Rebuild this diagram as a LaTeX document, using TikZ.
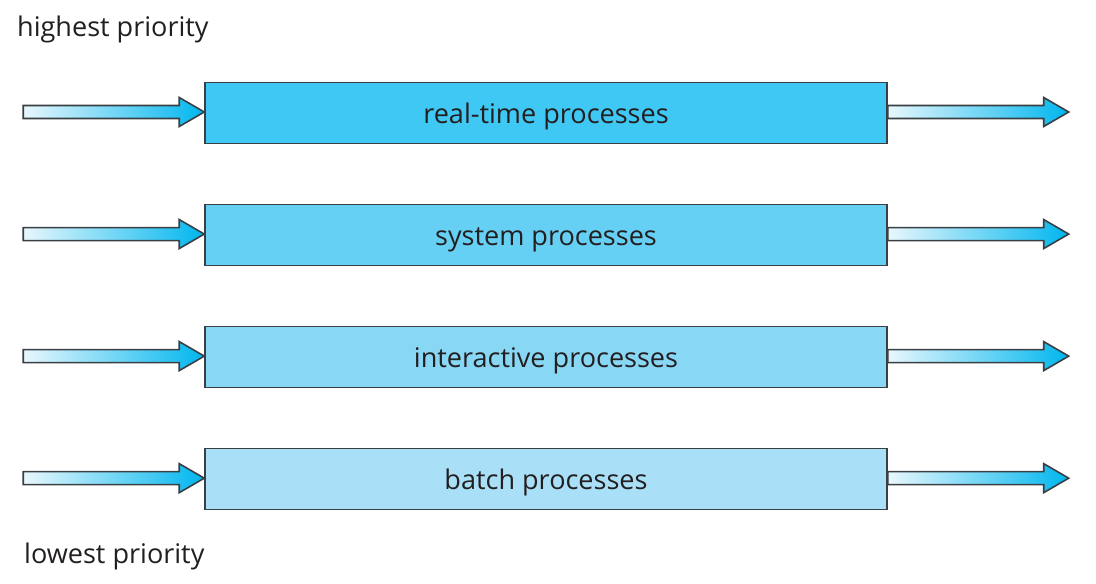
\documentclass[tikz,border=0pt]{standalone}
\usepackage{fontspec}
\setmainfont{Open Sans}
\usetikzlibrary{positioning, calc}

\definecolor{qone}{HTML}{40C8F4}
\definecolor{qtwo}{HTML}{66CFF4}
\definecolor{qthree}{HTML}{88D7F5}
\definecolor{qfour}{HTML}{A9E0F7}
\definecolor{arrowlight}{HTML}{E8F7FD}
\definecolor{arrowdark}{HTML}{00B6EE}
\definecolor{edgegray}{HTML}{3A3F44}
\definecolor{inkdark}{HTML}{231F20}

\tikzset{
  queuebox/.style={draw=edgegray, line width=0.9pt, minimum width=13.64cm, minimum height=1.22cm,
    inner sep=0pt, text height=11.5pt, text depth=0pt, font=\fontsize{15.4}{18}\selectfont, text=inkdark},
  blockarrow/.pic={
    \draw[edgegray, line width=0.9pt, left color=arrowlight, right color=arrowdark]
      (0,6.5) -- (156,6.5) -- (156,14.5) -- (181,0) -- (156,-14.5) -- (156,-6.5) -- (0,-6.5) -- cycle;
  }
}

\begin{document}
\begin{tikzpicture}[x=0.02cm, y=-0.02cm, node distance=1.19cm]
  \useasboundingbox (0,0) rectangle (1096,584);

  \node[queuebox, fill=qone] (rt) at (546,113) {real-time processes};
  \node[queuebox, fill=qtwo, below=of rt] (sys) {system processes};
  \node[queuebox, fill=qthree, below=of sys] (inter) {interactive processes};
  \node[queuebox, fill=qfour, below=of inter] (batch) {batch processes};

  \node[anchor=west, text=inkdark, font=\fontsize{15.4}{18}\selectfont] (high) at (11,29) {highest priority};
  \node[anchor=west, text=inkdark, font=\fontsize{15.4}{18}\selectfont] (low) at (18,556) {lowest priority};

  % arrows in and out of each queue
  \foreach \q in {rt, sys, inter, batch} {
    \pic at ($(\q.west)+(-181,-1)$) {blockarrow};
    \pic at ($(\q.east)+(0,-1)$) {blockarrow};
  }
\end{tikzpicture}
\end{document}
